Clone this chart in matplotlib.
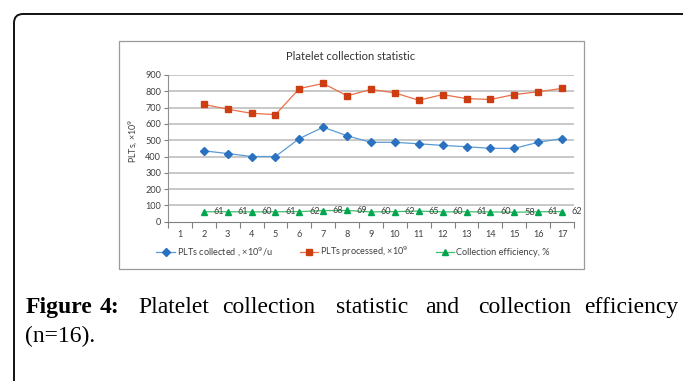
import matplotlib
matplotlib.use("Agg")
import matplotlib.pyplot as plt
from matplotlib.patches import Rectangle, FancyBboxPatch
from matplotlib.transforms import IdentityTransform


# sample numbers (x-axis categories) and series
categories = list(range(1, 18))
sample_x = list(range(2, 18))
plts_collected = [435, 418, 400, 400, 510, 580, 527, 487, 487, 478, 468, 460, 450, 450, 487, 510]
plts_processed = [720, 690, 665, 657, 817, 848, 772, 812, 790, 745, 780, 755, 750, 780, 797, 818]
efficiency = [61, 61, 60, 61, 62, 68, 69, 60, 62, 65, 60, 61, 60, 58, 61, 62]
y_ticks = [0, 100, 200, 300, 400, 500, 600, 700, 800, 900]

W, H = 683, 381


def fx(x):
    return x / W


def fy(y):
    return 1 - y / H


plt.rcParams["font.family"] = ["Lato", "DejaVu Sans"]

fig = plt.figure(figsize=(W / 100, H / 100), dpi=100)
fig.patch.set_facecolor("white")

# ==================================
# OUTER PAGE FRAME (rounded top-left corner)
# ==================================

fig.add_artist(
    FancyBboxPatch(
        (14, -40),
        W + 40,
        H - 14 + 40,
        boxstyle="round,pad=0,rounding_size=9",
        transform=IdentityTransform(),
        fill=False,
        edgecolor="#111111",
        linewidth=1.4
    )
)

# chart border
fig.add_artist(
    Rectangle(
        (119, H - 269),
        584 - 119,
        269 - 41,
        transform=IdentityTransform(),
        fill=False,
        edgecolor="#9a9a9a",
        linewidth=0.9
    )
)

# ==================================
# PLOT AREA
# ==================================

left, right = fx(168), fx(574)
bottom, top = fy(221.7), fy(75)
ax = fig.add_axes([left, bottom, right - left, top - bottom])

ax.set_xlim(0.5, 17.5)
ax.set_ylim(0, 900)

ax.set_yticks(y_ticks)
ax.set_yticklabels([str(v) for v in y_ticks], fontsize=6.6, color="#404040")
ax.set_xticks(categories)
ax.set_xticklabels([str(c) for c in categories], fontsize=6.6, color="#404040")
ax.set_xticks([c + 0.5 for c in range(0, 18)], minor=True)
ax.tick_params(axis="x", which="major", length=0, pad=6)
ax.tick_params(axis="x", which="minor", length=4, color="#808080", width=0.8)
ax.tick_params(axis="y", length=3, color="#808080", width=0.8, pad=2)

for side in ["top", "right"]:
    ax.spines[side].set_visible(False)
ax.spines["left"].set_color("#909090")
ax.spines["left"].set_linewidth(0.8)
ax.spines["bottom"].set_color("#808080")
ax.spines["bottom"].set_linewidth(0.8)

for v in y_ticks[1:]:
    ax.axhline(v, color="#c4c4c4", linewidth=1.3, zorder=0)

blue_line, = ax.plot(
    sample_x, plts_collected,
    color="#5b9bd5", linewidth=0.9,
    marker="D", markersize=3.6,
    markerfacecolor="#2a72c0", markeredgecolor="#2a72c0"
)

red_line, = ax.plot(
    sample_x, plts_processed,
    color="#e8704a", linewidth=0.9,
    marker="s", markersize=4.8,
    markerfacecolor="#cc3d12", markeredgecolor="#cc3d12"
)

green_line, = ax.plot(
    sample_x, efficiency,
    color="#3fbf6a", linewidth=0.9,
    marker="^", markersize=5,
    markerfacecolor="#00a550", markeredgecolor="#00a550"
)

for x, v in zip(sample_x, efficiency):
    ax.annotate(
        str(v),
        (x, v),
        xytext=(7, 0),
        textcoords="offset points",
        fontsize=6.6,
        color="#404040",
        va="center",
        ha="left"
    )

# ==================================
# TITLES AND LEGEND
# ==================================

fig.text(fx(351), fy(56), "Platelet collection statistic",
         ha="center", va="center", fontsize=8, color="#333333")

fig.text(fx(133), fy(141), "PLTs, ×10$^9$",
         ha="center", va="center", rotation=90, fontsize=6.4, color="#404040")

fig.legend(
    [blue_line, red_line, green_line],
    ["PLTs collected , ×10$^9$/u", "PLTs processed, ×10$^9$", "Collection efficiency, %"],
    loc="center",
    bbox_to_anchor=(fx(353), fy(252)),
    ncol=3,
    frameon=False,
    fontsize=6.6,
    handlelength=2.0,
    handletextpad=0.2,
    columnspacing=3.0,
    labelcolor="#404040"
)

# ==================================
# CAPTION
# ==================================

cap_y = fy(313)
cap_font = ["Liberation Serif", "DejaVu Serif"]
cap_size = 17

fig.text(fx(26), cap_y, "Figure", fontsize=cap_size, family=cap_font,
         weight="bold", va="baseline", ha="left")
fig.text(fx(100), cap_y, "4:", fontsize=cap_size, family=cap_font,
         weight="bold", va="baseline", ha="left")

words = ["Platelet", "collection", "statistic", "and", "collection"]
word_x = [138, 222, 336, 425, 478]
for w, x in zip(words, word_x):
    fig.text(fx(x), cap_y, w, fontsize=cap_size, family=cap_font,
             va="baseline", ha="left")
fig.text(fx(678), cap_y, "efficiency", fontsize=cap_size, family=cap_font,
         va="baseline", ha="right")

fig.text(fx(25), fy(342), "(n=16).", fontsize=cap_size, family=cap_font,
         va="baseline", ha="left")

fig.savefig("out.png", dpi=100)
